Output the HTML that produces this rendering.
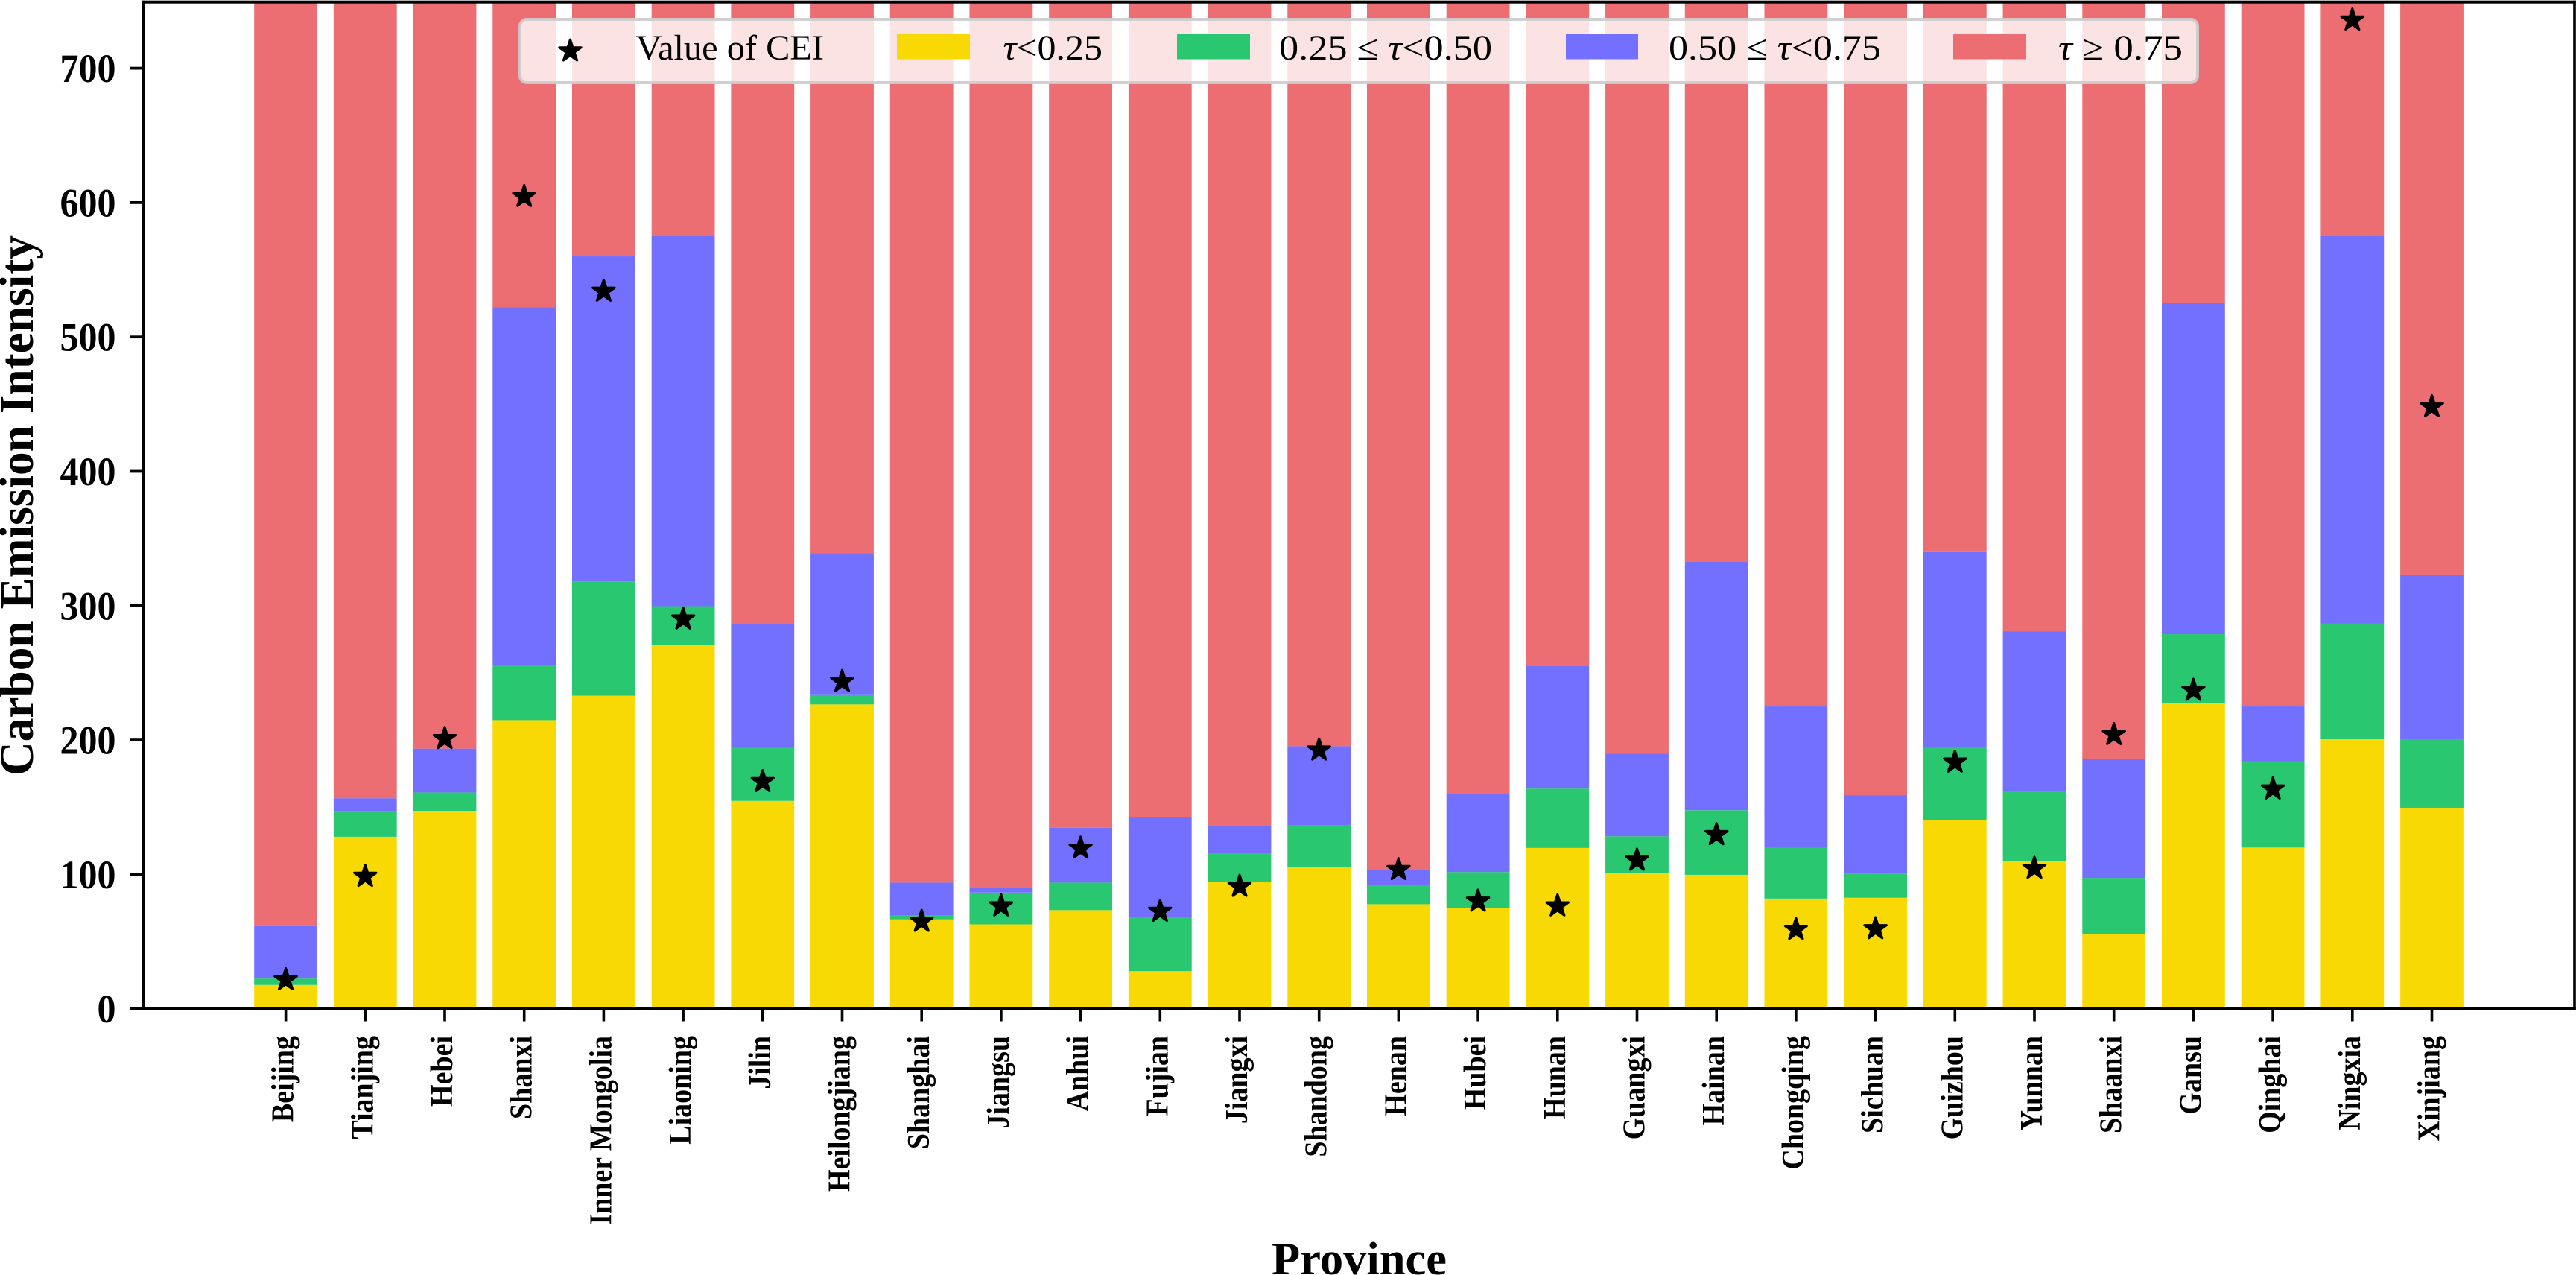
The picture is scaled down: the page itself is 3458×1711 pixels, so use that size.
<!DOCTYPE html>
<html lang="en">
<head>
<meta charset="utf-8">
<title>Carbon Emission Intensity by Province</title>
<style>
html,body{margin:0;padding:0;background:#fff;width:3458px;height:1711px;overflow:hidden}
svg{display:block}
text{font-family:"Liberation Serif",serif;fill:#000}
</style>
</head>
<body>
<svg id="chart" xmlns="http://www.w3.org/2000/svg" width="3458" height="1711" viewBox="0 0 3458 1711">
<defs><clipPath id="plot-clip"><rect x="192" y="2.7" width="3264" height="1351"/></clipPath></defs>
<g id="bars" clip-path="url(#plot-clip)"></g>
<g id="stars" clip-path="url(#plot-clip)"></g>

<g>
<rect x="698" y="26" width="2252" height="85" rx="9" ry="9" fill="#ffffff" fill-opacity="0.8" stroke="#cccccc" stroke-opacity="0.9" stroke-width="4"/>
<g id="legend-star"></g>
<text x="853.5" y="80" font-size="48" textLength="252.5" lengthAdjust="spacingAndGlyphs">Value of CEI</text>
<rect x="1204" y="45" width="98" height="34.5" fill="#F9D903"/>
<text x="1346.5" y="80" font-size="48" textLength="133.5" lengthAdjust="spacingAndGlyphs"><tspan font-style="italic">τ</tspan>&lt;0.25</text>
<rect x="1580" y="45" width="98" height="34.5" fill="#29C76F"/>
<text x="1717" y="80" font-size="48" textLength="286" lengthAdjust="spacingAndGlyphs">0.25 ≤ <tspan font-style="italic">τ</tspan>&lt;0.50</text>
<rect x="2102" y="45" width="97" height="34.5" fill="#7470FF"/>
<text x="2240" y="80" font-size="48" textLength="285" lengthAdjust="spacingAndGlyphs">0.50 ≤ <tspan font-style="italic">τ</tspan>&lt;0.75</text>
<rect x="2622" y="45" width="98" height="34.5" fill="#EC6E73"/>
<text x="2763" y="80" font-size="48" textLength="167" lengthAdjust="spacingAndGlyphs"><tspan font-style="italic">τ</tspan> ≥ 0.75</text>
</g>

<g id="axes"></g>

<rect x="190.8" y="0.7" width="3.8" height="1355"  fill="#000"/>
<rect x="3454.2" y="0.7" width="3.6" height="1355" fill="#000"/>
<rect x="190.8" y="0.7" width="3267" height="4" fill="#000"/>
<rect x="190.8" y="1351.9" width="3267" height="3.8" fill="#000"/>

<text transform="translate(44 678.5) rotate(-90)" text-anchor="middle" font-size="65" font-weight="700" textLength="725" lengthAdjust="spacingAndGlyphs">Carbon Emission Intensity</text>
<text x="1707" y="1710" font-size="62" font-weight="700" textLength="235" lengthAdjust="spacingAndGlyphs">Province</text>
</svg>

<script>
const provinces = ["Beijing","Tianjing","Hebei","Shanxi","Inner Mongolia","Liaoning","Jilin","Heilongjiang","Shanghai","Jiangsu","Anhui","Fujian","Jiangxi","Shandong","Henan","Hubei","Hunan","Guangxi","Hainan","Chongqing","Sichuan","Guizhou","Yunnan","Shaanxi","Gansu","Qinghai","Ningxia","Xinjiang"];
const upperTau25 = [17.7,128,147,214.8,233,270.5,154.7,226.5,66.5,62.8,73.4,28,94.5,105.5,77.8,75,119.7,101.3,99.7,82,82.6,140.5,110,55.8,227.7,120,200.6,149.6];
const upperTau50 = [22.5,146.4,161,256,318,299.6,194,234,69.7,86.5,93.9,68.4,115.5,136.6,92.4,101.8,163.9,128.4,147.8,119.7,100.6,194.2,161.8,97.4,278.8,184,286.6,200.6];
const upperTau75 = [62,156.7,193.6,522,560,575,287,339.2,93.9,90,134.8,142.9,136.6,195.4,103.1,160.6,255.4,189.8,333,225,159,340,281,185.7,525.5,225,575,322.8];
const ceiValues = [21.5,98.5,201,604.5,534,290,169,243.5,65,76.5,119.5,72.5,91,192.5,103.5,80,76.5,110.5,129.5,59,59.5,183.5,104.5,204,237,163.5,735.8,448];
const yTicks = [0,100,200,300,400,500,600,700];
const yMax = 750;

const NS = "http://www.w3.org/2000/svg";
const x0 = 383.6, xStep = 106.7, yZero = 1353.7, yUnit = 1.803, barWidth = 0.795;
const xAxis = i => x0 + i * xStep;
const yAxis = v => yZero - v * yUnit;

const barsG = document.getElementById("bars");
const starsG = document.getElementById("stars");
const axesG = document.getElementById("axes");

function starPoints(cx, cy, r) {
  const pts = [];
  for (let k = 0; k < 10; k++) {
    const rad = k % 2 === 0 ? r : r * 0.381966;
    const a = -Math.PI / 2 + k * Math.PI / 5;
    pts.push((cx + rad * Math.cos(a)).toFixed(2) + "," + (cy + rad * Math.sin(a)).toFixed(2));
  }
  return pts.join(" ");
}

function makeBar(i, lo, hi, color) {
  const r = document.createElementNS(NS, "rect");
  const w = barWidth * xStep;
  r.setAttribute("x", xAxis(i) - w / 2);
  r.setAttribute("y", yAxis(hi));
  r.setAttribute("width", w);
  r.setAttribute("height", Math.max(0, yAxis(lo) - yAxis(hi)));
  r.setAttribute("fill", color);
  barsG.appendChild(r);
  return r;
}

provinces.forEach((name, i) => {
  const slug = name.toLowerCase().replace(/\s+/g, "-");

  const b1 = makeBar(i, 0, upperTau25[i], "#F9D903");
  
  

  const b2 = makeBar(i, upperTau25[i], upperTau50[i], "#29C76F");
  
  

  const b3 = makeBar(i, upperTau50[i], upperTau75[i], "#7470FF");
  
  

  const b4 = makeBar(i, upperTau75[i], yMax, "#EC6E73");
  
  

  const star = document.createElementNS(NS, "polygon");
  star.setAttribute("points", starPoints(xAxis(i), yAxis(ceiValues[i]), 15.5));
  star.setAttribute("fill", "#000");
  star.setAttribute("stroke", "#000");
  star.setAttribute("stroke-width", "3");
  star.setAttribute("stroke-linejoin", "round");
  
  
  starsG.appendChild(star);

  const tick = document.createElementNS(NS, "rect");
  tick.setAttribute("x", xAxis(i) - 1.8);
  tick.setAttribute("y", 1354);
  tick.setAttribute("width", 3.6);
  tick.setAttribute("height", 16.5);
  tick.setAttribute("fill", "#000");
  
  
  axesG.appendChild(tick);

  const label = document.createElementNS(NS, "text");
  label.setAttribute("transform", "translate(" + (xAxis(i) + 10) + " 1390) rotate(-90) scale(1 1.1)");
  label.setAttribute("text-anchor", "end");
  label.setAttribute("font-size", "38");
  label.setAttribute("font-weight", "700");
  label.textContent = name;
  
  
  axesG.appendChild(label);
});

yTicks.forEach(v => {
  const tick = document.createElementNS(NS, "rect");
  tick.setAttribute("x", 175);
  tick.setAttribute("y", yAxis(v) - 1.9);
  tick.setAttribute("width", 17);
  tick.setAttribute("height", 3.8);
  tick.setAttribute("fill", "#000");
  
  
  axesG.appendChild(tick);

  const label = document.createElementNS(NS, "text");
  const str = String(v);
  label.setAttribute("x", 155.5);
  label.setAttribute("y", yAxis(v) + 18.5);
  label.setAttribute("text-anchor", "end");
  label.setAttribute("font-size", "54");
  label.setAttribute("font-weight", "700");
  label.setAttribute("textLength", 25 * str.length);
  label.setAttribute("lengthAdjust", "spacingAndGlyphs");
  label.textContent = str;
  
  
  axesG.appendChild(label);
});

const legendStar = document.createElementNS(NS, "polygon");
legendStar.setAttribute("points", starPoints(765.5, 68.5, 15.5));
legendStar.setAttribute("fill", "#000");
legendStar.setAttribute("stroke", "#000");
legendStar.setAttribute("stroke-width", "3");
legendStar.setAttribute("stroke-linejoin", "round");


document.getElementById("legend-star").appendChild(legendStar);
</script>
</body>
</html>
